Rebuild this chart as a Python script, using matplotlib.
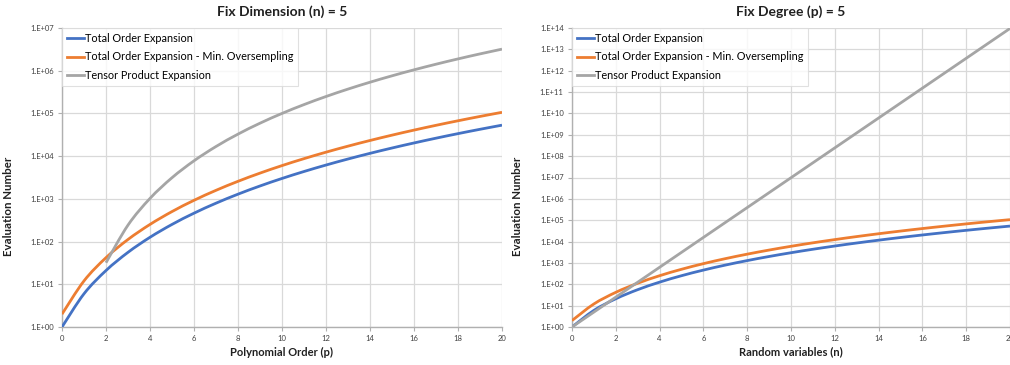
import matplotlib
matplotlib.use("Agg")
import matplotlib.pyplot as plt
import numpy as np
from matplotlib.path import Path
from matplotlib.patches import PathPatch
from matplotlib.ticker import FixedLocator, FixedFormatter

plt.rcParams['font.family'] = ['Lato', 'DejaVu Sans']

# ---- data ----
order_p = list(range(0, 21))
total_order = [1, 6, 21, 56, 126, 252, 462, 792, 1287, 2002, 3003, 4368, 6188,
               8568, 11628, 15504, 20349, 26334, 33649, 42504, 53130]
total_order_min_os = [2, 12, 42, 112, 252, 504, 924, 1584, 2574, 4004, 6006, 8736,
                      12376, 17136, 23256, 31008, 40698, 52668, 67298, 85008, 106260]
tensor_p_x = list(range(2, 21))
tensor_p = [32, 243, 1024, 3125, 7776, 16807, 32768, 59049, 100000, 161051, 248832,
            371293, 537824, 759375, 1048576, 1419857, 1889568, 2476099, 3200000]

vars_n = list(range(0, 21))
tensor_n = [1, 5, 25, 125, 625, 3125, 15625, 78125, 390625, 1953125, 9765625,
            48828125, 244140625, 1220703125, 6103515625, 30517578125, 152587890625,
            762939453125, 3814697265625, 19073486328125, 95367431640625]

series_labels = ["Total Order Expansion",
                 "Total Order Expansion - Min. Oversempling",
                 "Tensor Product Expansion"]
titles = ["Fix Dimension (n) = 5", "Fix Degree (p) = 5"]
xlabels = ["Polynomial Order (p)", "Random variables (n)"]
ylabel = "Evaluation Number"
x_ticks = list(range(0, 21, 2))
left_y_ticks = [1e0, 1e1, 1e2, 1e3, 1e4, 1e5, 1e6, 1e7]
left_y_labels = ["1.E+00", "1.E+01", "1.E+02", "1.E+03", "1.E+04", "1.E+05", "1.E+06", "1.E+07"]
right_y_ticks = [10.0 ** k for k in range(0, 15)]
right_y_labels = ["1.E+%02d" % k for k in range(0, 15)]

# ---- style ----
BLUE = "#4472C4"
ORANGE = "#ED7D31"
GRAY = "#A5A5A5"
GRID = "#D9D9D9"
AXIS = "#B0B0B0"
LW = 2.0

fig = plt.figure(figsize=(10.10, 3.65), dpi=100)
ax1 = fig.add_axes([62 / 1010, 1 - 327 / 365, 440 / 1010, 299 / 365])
ax2 = fig.add_axes([572 / 1010, 1 - 327 / 365, 438 / 1010, 299 / 365])


def smooth_line(ax, xs, ys, color, label):
    """Excel-like smoothed line: cubic Bezier through the data points,
    built in the log-y display space of the axes."""
    x = np.asarray(xs, float)
    ly = np.log10(np.asarray(ys, float))
    n = len(x)
    verts = [(x[0], ys[0])]
    codes = [Path.MOVETO]
    for i in range(n - 1):
        i0 = max(i - 1, 0)
        i3 = min(i + 2, n - 1)
        c1x = x[i] + (x[i + 1] - x[i0]) / 6.0
        c1y = ly[i] + (ly[i + 1] - ly[i0]) / 6.0
        c2x = x[i + 1] - (x[i3] - x[i]) / 6.0
        c2y = ly[i + 1] - (ly[i3] - ly[i]) / 6.0
        verts += [(c1x, 10 ** c1y), (c2x, 10 ** c2y), (x[i + 1], ys[i + 1])]
        codes += [Path.CURVE4] * 3
    patch = PathPatch(Path(verts, codes), fill=False, edgecolor=color, lw=LW,
                      capstyle='butt', joinstyle='round', zorder=3)
    ax.add_patch(patch)
    ax.plot([], [], color=color, lw=LW, label=label)


def style(ax, yticks, ylabels, ymax, title, xlabel, ylab_x):
    ax.set_yscale('log')
    ax.set_xlim(0, 20)
    ax.set_ylim(1, ymax)
    ax.xaxis.set_major_locator(FixedLocator(x_ticks))
    ax.set_xticklabels([str(t) for t in x_ticks])
    ax.yaxis.set_major_locator(FixedLocator(yticks))
    ax.yaxis.set_major_formatter(FixedFormatter(ylabels))
    ax.yaxis.set_minor_locator(FixedLocator([]))
    ax.grid(True, color=GRID, lw=0.9)
    ax.set_axisbelow(True)
    for s in ['top', 'right']:
        ax.spines[s].set_visible(False)
    for s in ['left', 'bottom']:
        ax.spines[s].set_color(AXIS)
        ax.spines[s].set_linewidth(1.0)
    ax.tick_params(axis='both', labelsize=5.5, colors=AXIS, length=3, width=0.8,
                   labelcolor='#404040', pad=3)
    ax.set_title(title, fontsize=10, fontweight='bold', pad=9, color='#202020')
    ax.set_xlabel(xlabel, fontsize=8, fontweight='bold', labelpad=3, color='#202020')
    ax.set_ylabel(ylabel, fontsize=8.3, fontweight='bold', color='#202020')
    ax.yaxis.set_label_coords(ylab_x, 0.405)
    leg = ax.legend(loc='upper left', bbox_to_anchor=(0.0, 1.0), fontsize=7.8,
                    frameon=True, fancybox=False, edgecolor='#D9D9D9',
                    handlelength=1.55, handletextpad=0.1, labelspacing=0.7,
                    borderpad=0.45, borderaxespad=0.0)
    leg.get_frame().set_linewidth(0.8)
    leg.set_zorder(5)


smooth_line(ax1, order_p, total_order, BLUE, series_labels[0])
smooth_line(ax1, order_p, total_order_min_os, ORANGE, series_labels[1])
smooth_line(ax1, tensor_p_x, tensor_p, GRAY, series_labels[2])
style(ax1, left_y_ticks, left_y_labels, 1e7, titles[0], xlabels[0], -0.108)

smooth_line(ax2, vars_n, total_order, BLUE, series_labels[0])
smooth_line(ax2, vars_n, total_order_min_os, ORANGE, series_labels[1])
smooth_line(ax2, vars_n, tensor_n, GRAY, series_labels[2])
style(ax2, right_y_ticks, right_y_labels, 1e14, titles[1], xlabels[1], -0.111)

fig.savefig("out.png", dpi=100)
